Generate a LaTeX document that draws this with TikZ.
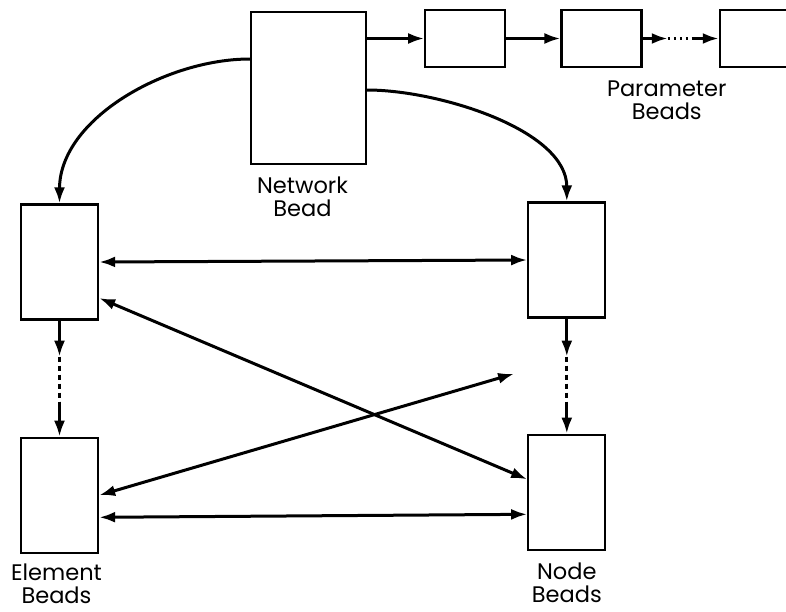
\documentclass[tikz,border=0pt]{standalone}
\usepackage{fontspec}
\setmainfont{Poppins}
\usetikzlibrary{arrows.meta,positioning}

\begin{document}
\begin{tikzpicture}[->,>={Latex[length=16pt,width=11pt]},line width=3pt,x=1pt,y=-1pt,
  bead/.style={draw,rectangle,line width=2.3pt,minimum width=77pt,minimum height=115pt},
  pbead/.style={draw,rectangle,line width=2.3pt,minimum width=80pt,minimum height=57pt},
  lbl/.style={font=\fontsize{22.5}{23}\selectfont,align=center,inner sep=0pt},
  dots/.style={-,dash pattern=on 5pt off 4pt},
  pdots/.style={-,dash pattern=on 2.5pt off 3.5pt}]
\useasboundingbox (0,0) rectangle (786,611);
\node (net)[bead, minimum width=115pt, minimum height=152pt] at (308.5,88) {};
\node (p1)[pbead] [below right=-2pt and 57pt of net.north east] {};
\node (p2)[pbead] [right=54pt of p1] {};
\node (p3)[pbead] [right=76pt of p2] {};
\node (el1)[bead] at (59.5,262) {};
\node (el2)[bead] [below=116pt of el1] {};
\node (nd1)[bead] [right=428pt of el1, yshift=2pt] {};
\node (nd2)[bead] [below=115pt of nd1] {};
\node (netlbl)[lbl, below=10pt of net, xshift=-6pt] {Network\\Bead};
\node (parlbl)[lbl, below=11pt of p2.south east, xshift=24pt] {Parameter\\Beads};
\node (ellbl)[lbl, below=8pt of el2, xshift=-3pt] {Element\\Beads};
\node (ndlbl)[lbl, below=10pt of nd2] {Node\\Beads};
\coordinate[below=36pt of el1.south] (ea);
\coordinate[above=35pt of el2.north] (eb);
\coordinate[below=38pt of nd1.south] (na);
\coordinate[above=30pt of nd2.north] (nb);
\coordinate[right=25pt of p2.east] (pa);
\coordinate[left=27pt of p3.west] (pb);
\coordinate[below left=55pt and 13pt of nd1.south west] (tip);
\path (net.east |- p1.west) edge (p1)
      (p1) edge (p2)
      (p2) edge (pa)
      (pa) edge[pdots] (pb)
      (pb) edge (p3)
      ([yshift=29pt]net.west) edge[out=180, in=90, looseness=0.9] (el1)
      ([yshift=-2pt]net.east) edge[out=0, in=90, looseness=0.8] (nd1)
      (el1) edge (ea)
      (ea) edge[dots] (eb)
      (eb) edge (el2)
      (nd1) edge (na)
      (na) edge[dots] (nb)
      (nb) edge (nd2)
      (el1.east) edge[<->] (nd1.west)
      ([yshift=-36pt]el1.east) edge[<->] ([yshift=13pt]nd2.west)
      (el2.east) edge[<->] (tip)
      ([yshift=-22pt]el2.east) edge[<->] ([yshift=-22pt]nd2.west);
\end{tikzpicture}
\end{document}
